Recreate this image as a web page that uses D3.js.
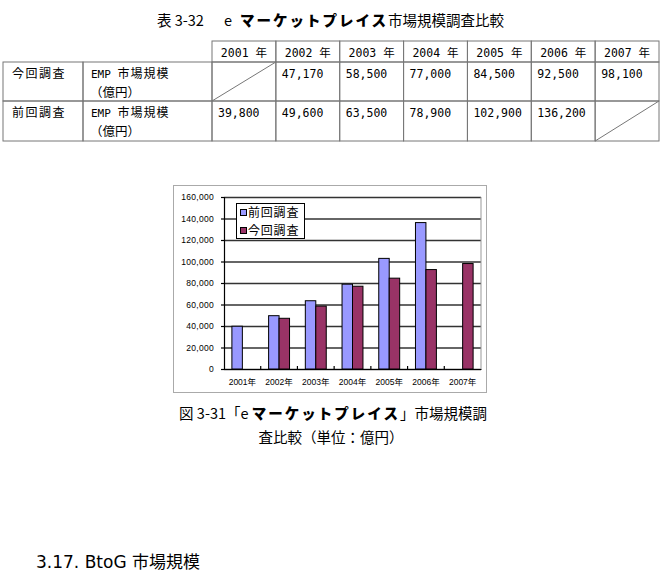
<!DOCTYPE html>
<html>
<head>
<meta charset="utf-8">
<script src="https://cdn.jsdelivr.net/npm/d3@7"></script>
<style>
  body { margin: 0; background: #fff; }
  text { font-family: "Noto Sans CJK JP", "Liberation Sans", sans-serif; fill: #000; }
  .num { font-family: "DejaVu Sans Mono", "Noto Sans CJK JP", monospace; }
  .tick text { font-family: "Liberation Sans", "Noto Sans CJK JP", sans-serif; }
</style>
</head>
<body>
<div id="page"></div>
<script>
// data
const years = ['2001年', '2002年', '2003年', '2004年', '2005年', '2006年', '2007年'];
const seriesNames = ['前回調査', '今回調査'];
const prevSurvey = [39800, 49600, 63500, 78900, 102900, 136200, null];
const currSurvey = [null, 47170, 58500, 77000, 84500, 92500, 98100];
const yTicks = [0, 20000, 40000, 60000, 80000, 100000, 120000, 140000, 160000];
const colors = ['#9999ff', '#993366'];

const width = 666, height = 571;
const svg = d3.select('#page').append('svg')
    .attr('width', width)
    .attr('height', height);

const fmt = d3.format(',');

/* table title */
const title = svg.append('text')
    .attr('y', 26)
    .style('font-size', '14.5px');
title.append('tspan').attr('x', 157).text('表 3-32');
title.append('tspan').attr('x', 224).text('e');
title.append('tspan').attr('x', 240).text('マーケットプレイス')
    .style('font-weight', 900).style('letter-spacing', '2px');
title.append('tspan').text('市場規模調査比較');

/* table */
const colX = d3.scaleBand().domain(years).range([212, 659]);
const rowTop = [41, 62, 101, 141];
const tbl = svg.append('g').attr('stroke', '#777').attr('fill', 'none');

years.forEach(y => {
    tbl.append('rect')
        .attr('x', colX(y)).attr('y', rowTop[0])
        .attr('width', colX.bandwidth()).attr('height', rowTop[1] - rowTop[0]);
    svg.append('text')
        .attr('class', 'num')
        .attr('x', colX(y) + colX.bandwidth() / 2).attr('y', 57)
        .attr('text-anchor', 'middle')
        .style('font-size', '11.5px')
        .text(y.replace('年', ' 年'));
});

const rows = [
    { label: '今回調査', values: currSurvey },
    { label: '前回調査', values: prevSurvey }
];
rows.forEach((r, i) => {
    const y0 = rowTop[i + 1], y1 = rowTop[i + 2];
    tbl.append('rect').attr('x', 3).attr('y', y0).attr('width', 80).attr('height', y1 - y0);
    tbl.append('rect').attr('x', 83).attr('y', y0).attr('width', 129).attr('height', y1 - y0);
    svg.append('text').attr('x', 12).attr('y', y0 + 16)
        .style('font-size', '12px').style('letter-spacing', '1.5px').text(r.label);
    const emp = svg.append('text').attr('x', 91).attr('y', y0 + 16).style('font-size', '12px');
    emp.append('tspan').attr('class', 'num').style('font-size', '11px').text('EMP ');
    emp.append('tspan').style('letter-spacing', '1px').text('市場規模');
    svg.append('text').attr('x', 90).attr('y', y0 + 35)
        .style('font-size', '12.5px').text('（億円）');
    years.forEach((y, j) => {
        tbl.append('rect')
            .attr('x', colX(y)).attr('y', y0)
            .attr('width', colX.bandwidth()).attr('height', y1 - y0);
        const v = r.values[j];
        if (v == null) {
            tbl.append('line')
                .attr('x1', colX(y)).attr('y1', y1)
                .attr('x2', colX(y) + colX.bandwidth()).attr('y2', y0);
        } else {
            svg.append('text').attr('class', 'num')
                .attr('x', colX(y) + 6).attr('y', y0 + 16)
                .style('font-size', '11.5px')
                .text(fmt(v));
        }
    });
});

/* chart frame */
svg.append('rect')
    .attr('x', 173.5).attr('y', 185.5)
    .attr('width', 313).attr('height', 207)
    .attr('fill', '#fff').attr('stroke', '#aaa');

const plot = { left: 224, right: 481, top: 197, bottom: 369 };

const xScale = d3.scaleBand()
    .domain(years)
    .range([plot.left, plot.right])
    .paddingInner(0.43)
    .paddingOuter(0.215);
const xSub = d3.scaleBand()
    .domain(seriesNames)
    .range([0, xScale.bandwidth()]);
const yScale = d3.scaleLinear()
    .domain([0, 160000])
    .range([plot.bottom, plot.top]);

/* gridlines */
svg.append('g')
    .attr('class', 'grid')
    .attr('transform', `translate(${plot.left},0)`)
    .call(d3.axisLeft(yScale).tickValues(yTicks).tickSize(-(plot.right - plot.left)).tickFormat(''))
    .call(g => g.select('.domain').remove())
    .selectAll('line')
    .attr('stroke', '#333')
    .attr('stroke-width', 1.4);

/* plot right border */
svg.append('line')
    .attr('x1', plot.right).attr('x2', plot.right)
    .attr('y1', plot.top).attr('y2', plot.bottom)
    .attr('stroke', '#999');

/* bars */
const series = [prevSurvey, currSurvey];
series.forEach((vals, s) => {
    svg.append('g')
        .selectAll('rect')
        .data(vals.map((v, i) => ({ year: years[i], v })).filter(d => d.v != null))
        .join('rect')
        .attr('x', d => xScale(d.year) + xSub(seriesNames[s]))
        .attr('y', d => yScale(d.v))
        .attr('width', xSub.bandwidth())
        .attr('height', d => plot.bottom - yScale(d.v))
        .attr('fill', colors[s])
        .attr('stroke', '#000')
        .attr('stroke-width', 1);
});

/* y axis */
svg.append('g')
    .attr('transform', `translate(${plot.left},0)`)
    .call(d3.axisLeft(yScale).tickValues(yTicks).tickSize(3).tickPadding(7).tickFormat(fmt))
    .call(g => g.selectAll('line, .domain').attr('stroke', '#000').attr('stroke-width', 1.2))
    .selectAll('text')
    .style('font-size', '8.5px')
    .style('letter-spacing', '0.3px')
    .attr('fill', '#000');

/* x axis */
const xAxis = svg.append('g')
    .attr('transform', `translate(0,${plot.bottom})`)
    .call(d3.axisBottom(xScale).tickSize(0).tickPadding(10))
    .call(g => g.select('.domain').attr('stroke', '#000').attr('stroke-width', 1.2));
xAxis.selectAll('text').style('font-size', '8.5px').attr('fill', '#000');
xAxis.selectAll('.sep')
    .data(years.slice(1))
    .join('line')
    .attr('class', 'sep')
    .attr('x1', d => xScale(d) - xScale.step() * xScale.paddingInner() / 2)
    .attr('x2', d => xScale(d) - xScale.step() * xScale.paddingInner() / 2)
    .attr('y1', 0).attr('y2', -3)
    .attr('stroke', '#000').attr('stroke-width', 1.2);

/* legend */
const legend = svg.append('g').attr('transform', 'translate(236,203)');
legend.append('rect')
    .attr('x', 0.5).attr('y', 0.5).attr('width', 68).attr('height', 35)
    .attr('fill', '#fff').attr('stroke', '#000');
seriesNames.forEach((name, i) => {
    legend.append('rect')
        .attr('x', 4.5).attr('y', 6.5 + i * 18).attr('width', 6).attr('height', 6)
        .attr('fill', colors[i]).attr('stroke', '#000');
    legend.append('text')
        .attr('x', 12).attr('y', 14 + i * 18)
        .style('font-size', '12px')
        .style('letter-spacing', '0.8px')
        .text(name);
});

/* figure caption */
const cap1 = svg.append('text')
    .attr('x', 333).attr('y', 419)
    .attr('text-anchor', 'middle')
    .style('font-size', '14.5px');
cap1.append('tspan').text('図 3-31「e\u00a0');
cap1.append('tspan').text('マーケットプレイス')
    .style('font-weight', 900).style('letter-spacing', '2px');
cap1.append('tspan').text('」市場規模調');
svg.append('text')
    .attr('x', 331).attr('y', 443)
    .attr('text-anchor', 'middle')
    .style('font-size', '14.5px')
    .text('査比較（単位：億円）');

/* section heading */
svg.append('text')
    .attr('x', 36).attr('y', 568)
    .style('font-family', '"DejaVu Sans", "Noto Sans CJK JP", sans-serif')
    .style('font-size', '17px')
    .text('3.17. BtoG 市場規模');
</script>
</body>
</html>
